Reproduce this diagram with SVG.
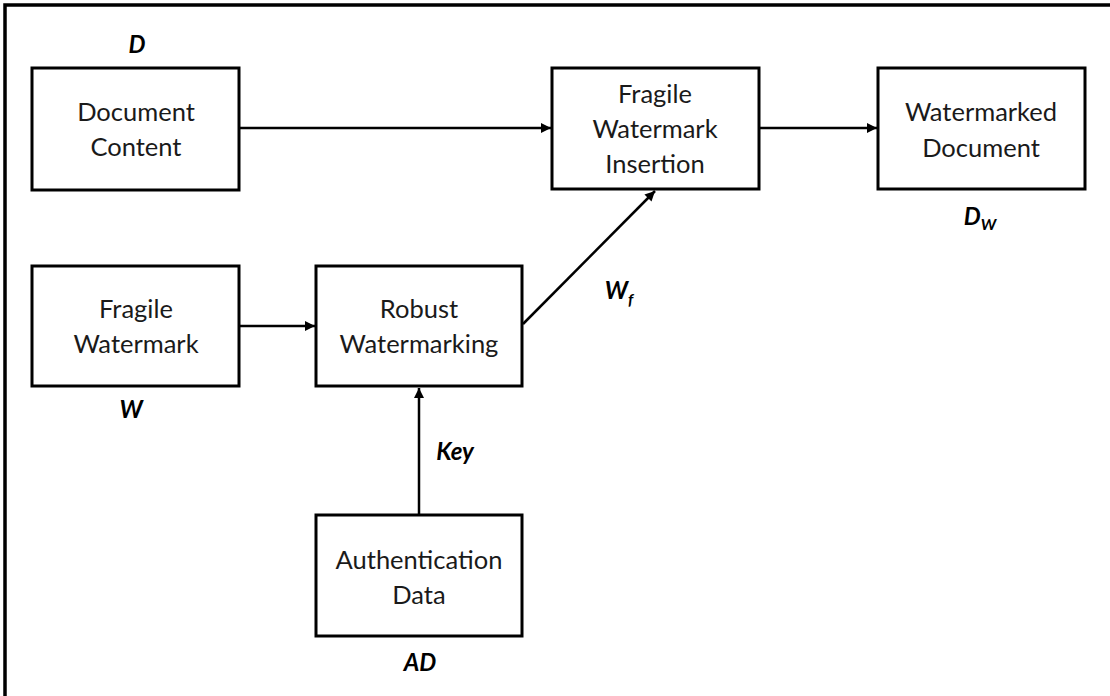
<svg xmlns="http://www.w3.org/2000/svg" width="1110" height="696" viewBox="0 0 1110 696">
<defs>
<style>
.box{fill:#fff;stroke:#000;stroke-width:3}
.t{font-family:Lato,"Liberation Sans",sans-serif;font-size:25.5px;fill:#1a1a1a;text-anchor:middle}
.l{font-family:Lato,"Liberation Sans",sans-serif;font-size:24px;font-weight:bold;font-style:italic;fill:#000;text-anchor:middle}
.c{stroke:#000;stroke-width:2.5;fill:none;marker-end:url(#ah)}
</style>
<marker id="ah" viewBox="0 0 10 10" refX="10" refY="5" markerWidth="4" markerHeight="4" orient="auto" markerUnits="strokeWidth">
<path d="M0,0 L10,5 L0,10 z" fill="#000"/>
</marker>
</defs>
<rect width="1110" height="696" fill="#fff"/>
<path d="M5,696 L5,5 L1110,5" fill="none" stroke="#000" stroke-width="3.5"/>
<g id="connectors">
<line class="c" x1="240" y1="128" x2="551" y2="128"/>
<line class="c" x1="759" y1="128" x2="877" y2="128"/>
<line class="c" x1="240" y1="326" x2="315" y2="326"/>
<line class="c" x1="523" y1="324" x2="655" y2="191"/>
<line class="c" x1="419" y1="515" x2="419" y2="388"/>
</g>
<g id="doc-content">
<rect class="box" x="32" y="68" width="207" height="122"/>
<text class="t" x="136" y="121">Document</text>
<text class="t" x="136" y="156">Content</text>
<text class="l" x="137" y="53">D</text>
</g>
<g id="fragile-insertion">
<rect class="box" x="552" y="68" width="207" height="121"/>
<text class="t" x="655" y="103">Fragile</text>
<text class="t" x="655" y="138">Watermark</text>
<text class="t" x="655" y="173">Insertion</text>
</g>
<g id="watermarked-doc">
<rect class="box" x="878" y="68" width="207" height="121"/>
<text class="t" x="981" y="121">Watermarked</text>
<text class="t" x="981" y="157">Document</text>
<text class="l" x="980" y="225">D<tspan font-size="16" dy="5">W</tspan></text>
</g>
<g id="fragile-watermark">
<rect class="box" x="32" y="266" width="207" height="120"/>
<text class="t" x="136" y="318">Fragile</text>
<text class="t" x="136" y="353">Watermark</text>
<text class="l" x="131" y="418">W</text>
</g>
<g id="robust">
<rect class="box" x="316" y="266" width="206" height="120"/>
<text class="t" x="419" y="318">Robust</text>
<text class="t" x="419" y="353">Watermarking</text>
</g>
<g id="wf-label">
<text class="l" x="619" y="299">W<tspan font-size="16" dy="6">f</tspan></text>
</g>
<g id="key-label">
<text class="l" x="455" y="460">Key</text>
</g>
<g id="auth-data">
<rect class="box" x="316" y="515" width="206" height="121"/>
<text class="t" x="419" y="569">Authentication</text>
<text class="t" x="419" y="604">Data</text>
<text class="l" x="420" y="671">AD</text>
</g>
</svg>
